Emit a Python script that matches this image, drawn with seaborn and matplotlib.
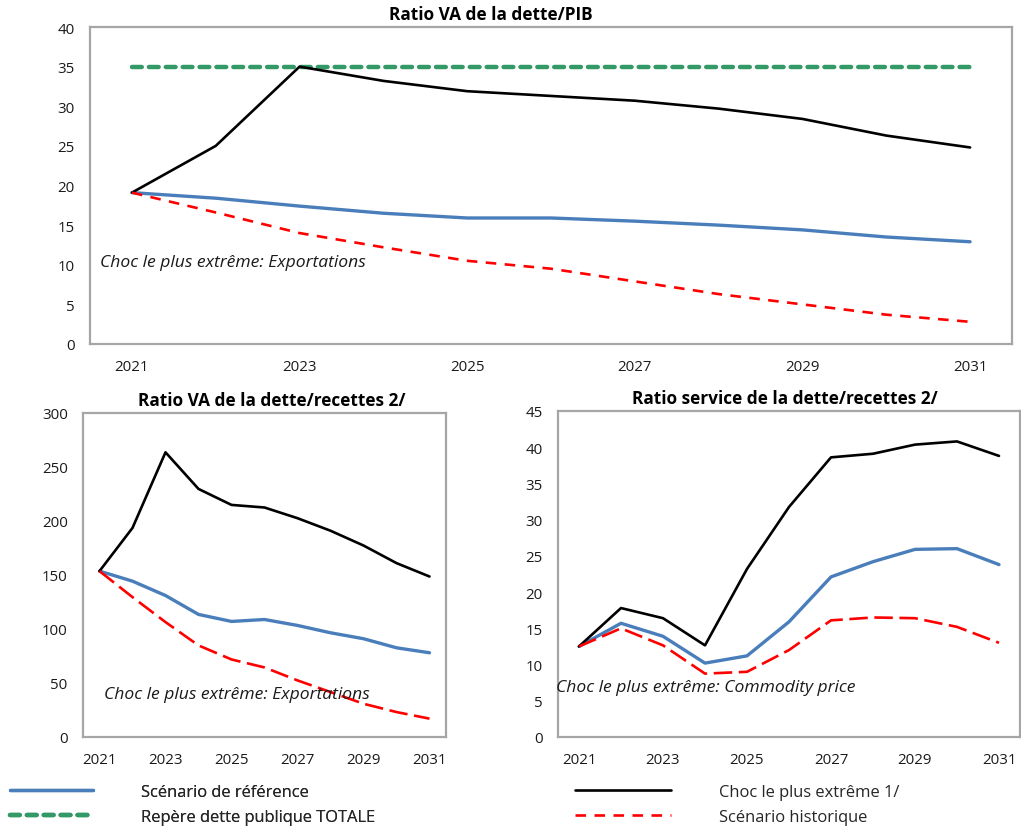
import numpy as np
import pandas as pd
import matplotlib
matplotlib.use("Agg")
import matplotlib.pyplot as plt
import seaborn as sns

# ---------------- data ----------------
years = [2021, 2022, 2023, 2024, 2025, 2026, 2027, 2028, 2029, 2030, 2031]
year_labels = ["2021", "", "2023", "", "2025", "", "2027", "", "2029", "", "2031"]

# Ratio VA de la dette/PIB
pib_reference = [19.1, 18.4, 17.4, 16.5, 15.9, 15.9, 15.5, 15.0, 14.4, 13.5, 12.9]
pib_choc = [19.1, 25.0, 35.0, 33.2, 31.9, 31.3, 30.7, 29.7, 28.4, 26.3, 24.8]
pib_historique = [19.1, 16.6, 14.0, 12.2, 10.5, 9.5, 7.9, 6.3, 5.0, 3.7, 2.8]
pib_repere = [35, 35, 35, 35, 35, 35, 35, 35, 35, 35, 35]

# Ratio VA de la dette/recettes
rec_reference = [153.6, 144.3, 131.0, 113.5, 107.0, 108.8, 103.3, 96.5, 91.0, 82.6, 78.0]
rec_choc = [153.6, 193.6, 263.6, 229.7, 214.9, 212.5, 202.6, 191.0, 177.3, 161.0, 148.6]
rec_historique = [153.6, 129.5, 106.4, 84.8, 71.8, 64.4, 52.4, 41.6, 30.8, 23.1, 17.0]

# Ratio service de la dette/recettes
srv_reference = [12.5, 15.7, 13.9, 10.2, 11.2, 15.9, 22.1, 24.2, 25.9, 26.0, 23.8]
srv_choc = [12.5, 17.8, 16.4, 12.65, 23.2, 31.75, 38.6, 39.1, 40.36, 40.8, 38.8]
srv_historique = [12.5, 15.0, 12.65, 8.75, 9.0, 12.0, 16.1, 16.5, 16.4, 15.2, 13.0]

label_ref = "Scénario de référence"
label_repere = "Repère dette publique TOTALE"
label_choc = "Choc le plus extrême 1/"
label_hist = "Scénario historique"

titles = ["Ratio VA de la dette/PIB",
          "Ratio VA de la dette/recettes 2/",
          "Ratio service de la dette/recettes 2/"]
notes = ["Choc le plus extrême: Exportations",
         "Choc le plus extrême: Exportations",
         "Choc le plus extrême: Commodity price"]

# ---------------- style ----------------
sns.set_theme(style="white")
plt.rcParams["font.family"] = ["Open Sans", "DejaVu Sans"]

BLUE = "#4A7EBB"
GREEN = "#339966"
RED = "#FF0000"
BLACK = "#000000"
SPINE = "#A6A6A6"
TXT = "#1A1A1A"
TICK_FS = 10.8
NOTE_FS = 12.6
TITLE_FS = 12.4
LEG_FS = 11.9

W, H = 1021, 829
fig = plt.figure(figsize=(W / 100, H / 100), dpi=100)


def px_axes(l, t, r, b):
    return fig.add_axes([l / W, 1 - b / H, (r - l) / W, (b - t) / H])


ax_top = px_axes(90, 28, 1012, 345)
ax_bl = px_axes(83, 414, 446, 738)
ax_br = px_axes(558, 412, 1020, 738)


def draw(ax, ref, choc, hist, repere=None, red_dash=(4, 3)):
    if repere is not None:
        sns.lineplot(x=years, y=repere, ax=ax, color=GREEN, lw=3.2,
                     linestyle=(0, (2.2, 1.6)), dash_capstyle="round",
                     label=label_repere, legend=False)
    sns.lineplot(x=years, y=ref, ax=ax, color=BLUE, lw=2.4, label=label_ref, legend=False)
    sns.lineplot(x=years, y=choc, ax=ax, color=BLACK, lw=1.9, label=label_choc, legend=False)
    sns.lineplot(x=years, y=hist, ax=ax, color=RED, lw=1.9,
                 linestyle=(0, red_dash), label=label_hist, legend=False)


draw(ax_top, pib_reference, pib_choc, pib_historique, repere=pib_repere, red_dash=(4, 3.2))
draw(ax_bl, rec_reference, rec_choc, rec_historique, red_dash=(7, 2.5))
draw(ax_br, srv_reference, srv_choc, srv_historique, red_dash=(7, 2.5))

limits = [(0, 40, 5), (0, 300, 50), (0, 45, 5)]
for ax, (lo, hi, st) in zip([ax_top, ax_bl, ax_br], limits):
    ax.set_xlim(years[0] - 0.5, years[-1] + 0.5)
    ax.set_ylim(lo, hi)
    ax.set_yticks(np.arange(lo, hi + st / 2, st))
    ax.set_xticks(years)
    ax.set_xticklabels(year_labels)
    ax.set_xticks(np.array(years[:-1]) + 0.5, minor=True)
    ax.tick_params(axis="x", which="major", length=0, pad=11, labelsize=TICK_FS, labelcolor=TXT)
    ax.tick_params(axis="x", which="minor", length=5, width=1.2, color=SPINE, direction="out")
    ax.tick_params(axis="y", which="major", length=5, width=1.2, color=SPINE,
                   direction="out", labelsize=TICK_FS, labelcolor=TXT, pad=6)
    ax.set_xlabel("")
    ax.set_ylabel("")
    for s in ax.spines.values():
        s.set_visible(True)
        s.set_color(SPINE)
        s.set_linewidth(1.6)
    ax.grid(False)

# titles
fig.text(491 / W, 1 - 15 / H, titles[0], ha="center", va="center", fontsize=TITLE_FS,
         fontweight="bold", color="black")
fig.text(272 / W, 1 - 401 / H, titles[1], ha="center", va="center", fontsize=TITLE_FS,
         fontweight="bold", color="black")
fig.text(785 / W, 1 - 399 / H, titles[2], ha="center", va="center", fontsize=TITLE_FS,
         fontweight="bold", color="black")

# notes
ax_top.text(2020.62, 10.3, notes[0], ha="left", va="center", fontsize=NOTE_FS,
            style="italic", color=TXT)
ax_bl.text(2021.14, 40, notes[1], ha="left", va="center", fontsize=NOTE_FS,
           style="italic", color=TXT)
ax_br.text(2020.45, 6.9, notes[2], ha="left", va="center", fontsize=NOTE_FS,
           style="italic", color=TXT, clip_on=False)

# legend
lines = {l.get_label(): l for l in ax_top.get_lines()}
leg1 = fig.legend(handles=[lines[label_ref], lines[label_repere]],
                  labels=[label_ref, label_repere],
                  loc="upper left", bbox_to_anchor=(10 / W, 1 - 785 / H),
                  frameon=False, fontsize=LEG_FS, handlelength=5.0, handletextpad=2.9,
                  labelspacing=0.55, borderpad=0, borderaxespad=0)
fig.add_artist(leg1)
fig.legend(handles=[lines[label_choc], lines[label_hist]],
           labels=[label_choc, label_hist],
           loc="upper left", bbox_to_anchor=(575 / W, 1 - 785 / H),
           frameon=False, fontsize=LEG_FS, handlelength=5.8, handletextpad=2.9,
           labelspacing=0.55, borderpad=0, borderaxespad=0)

fig.savefig("out.png", dpi=100)
